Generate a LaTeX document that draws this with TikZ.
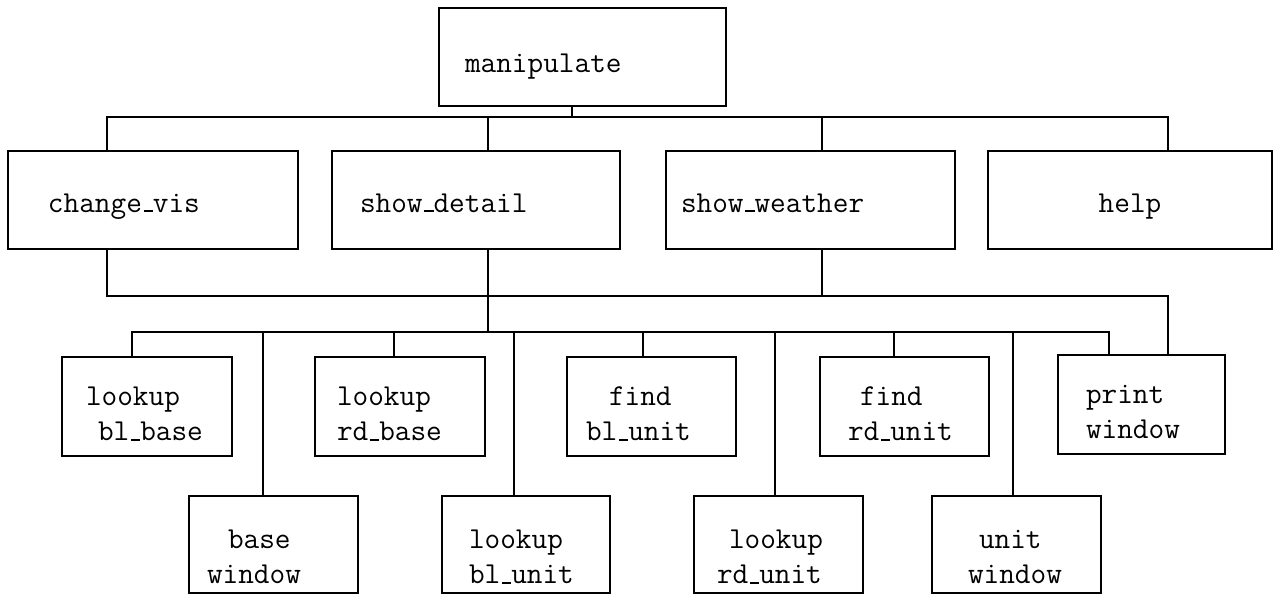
\documentclass[tikz,border=0pt]{standalone}
\begin{document}
\begin{tikzpicture}[x=0.5pt,y=-0.5pt,
  box/.style={draw, line width=1.1pt, inner xsep=0pt, inner ysep=0pt, align=left,
    font=\ttfamily\fontsize{15.2}{17.5}\selectfont},
  wire/.style={line width=1pt}]
\useasboundingbox (0,0) rectangle (1283,594);
\newcommand{\ind}[1]{\hspace*{#1}}
\newcommand{\us}{\kern.06em\rule{.3em}{0.9pt}}
\newcommand{\tstrut}[1]{\rule{0pt}{#1}}
\newcommand{\dstrut}[1]{\rule[-#1]{0pt}{#1}}
% top
\node[box, text width=143.5pt, minimum height=49pt] (manip) at (582.5,57) {\tstrut{18.5pt}\ind{13pt}manipulate\dstrut{3.3pt}};
% row 1
\node[box, text width=145pt, minimum height=49pt] (cv) at (153,200) {\tstrut{15.5pt}\ind{20pt}change\us vis\dstrut{3.3pt}};
\node[box, text width=144pt, minimum height=49pt] (sd) at (476,200) {\tstrut{15.5pt}\ind{14pt}show\us detail\dstrut{3.3pt}};
\node[box, text width=144.5pt, minimum height=49pt] (sw) at (810.5,200) {\tstrut{15.5pt}\ind{7.5pt}show\us weather\dstrut{3.3pt}};
\node[box, text width=142pt, minimum height=49pt, align=center] (help) at (1130,200) {\tstrut{15.5pt}help\dstrut{3.3pt}};
% row 2
\node[box, text width=85pt, minimum height=49.5pt] (lbb) at (147,406.5) {\tstrut{19.5pt}\ind{12pt}lookup\\\ind{18pt}bl\us base\dstrut{3pt}};
\node[box, text width=85pt, minimum height=49.5pt] (lrb) at (400,406.5) {\tstrut{19.5pt}\ind{11pt}lookup\\\ind{11pt}rd\us base\dstrut{3pt}};
\node[box, text width=84.5pt, minimum height=49.5pt] (fbu) at (651.5,406.5) {\tstrut{19.5pt}\ind{21pt}find\\\ind{9.5pt}bl\us unit\dstrut{3pt}};
\node[box, text width=84.5pt, minimum height=49.5pt] (fru) at (904.5,406.5) {\tstrut{19.5pt}\ind{20pt}find\\\ind{14pt}rd\us unit\dstrut{3pt}};
\node[box, text width=83.5pt, minimum height=49.5pt] (pw) at (1141.5,404.5) {\tstrut{19.5pt}\ind{14pt}print\\\ind{14pt}window\dstrut{3pt}};
% row 3
\node[box, text width=84.5pt, minimum height=48.5pt] (bw) at (273.5,544.5) {\tstrut{24.5pt}\ind{19.5pt}base\\\ind{9pt}window\dstrut{3pt}};
\node[box, text width=84pt, minimum height=48.5pt] (lbu) at (526,544.5) {\tstrut{24.5pt}\ind{13.5pt}lookup\\\ind{13.5pt}bl\us unit\dstrut{3pt}};
\node[box, text width=84.5pt, minimum height=48.5pt] (lru) at (778.5,544.5) {\tstrut{24.5pt}\ind{17.5pt}lookup\\\ind{11.5pt}rd\us unit\dstrut{3pt}};
\node[box, text width=84.5pt, minimum height=48.5pt] (uw) at (1016.5,544.5) {\tstrut{24.5pt}\ind{23.5pt}unit\\\ind{18pt}window\dstrut{3pt}};
% top bar
\coordinate (xm) at (572,117);
\coordinate (xa) at (107,117);
\coordinate (xb) at (488,117);
\coordinate (xc) at (822,117);
\coordinate (xd) at (1168,117);
\draw[wire] (manip.south -| xm) -- (xm);
\draw[wire] (cv.north -| xa) -- (xa) -- (xd) -- (help.north -| xd);
\draw[wire] (xb) -- (sd.north -| xb);
\draw[wire] (xc) -- (sw.north -| xc);
% lower bar
\coordinate (la) at (107,296);
\coordinate (lc) at (822,296);
\coordinate (ld) at (1168,296);
\draw[wire] (cv.south -| la) -- (la) -- (ld) -- (pw.north -| ld);
\draw[wire] (sw.south -| lc) -- (lc);
% row 2 bar
\coordinate (ra) at (132,332);
\coordinate (rb) at (488,332);
\coordinate (rz) at (1109,332);
\draw[wire] (sd.south -| rb) -- (rb);
\draw[wire] (lbb.north -| ra) -- (ra) -- (rz) -- (pw.north -| rz);
\coordinate (r1) at (263,332);
\coordinate (r2) at (394,332);
\coordinate (r3) at (514,332);
\coordinate (r4) at (643,332);
\coordinate (r5) at (775,332);
\coordinate (r6) at (894,332);
\coordinate (r7) at (1013,332);
\draw[wire] (r1) -- (bw.north -| r1);
\draw[wire] (r2) -- (lrb.north -| r2);
\draw[wire] (r3) -- (lbu.north -| r3);
\draw[wire] (r4) -- (fbu.north -| r4);
\draw[wire] (r5) -- (lru.north -| r5);
\draw[wire] (r6) -- (fru.north -| r6);
\draw[wire] (r7) -- (uw.north -| r7);
\end{tikzpicture}
\end{document}
